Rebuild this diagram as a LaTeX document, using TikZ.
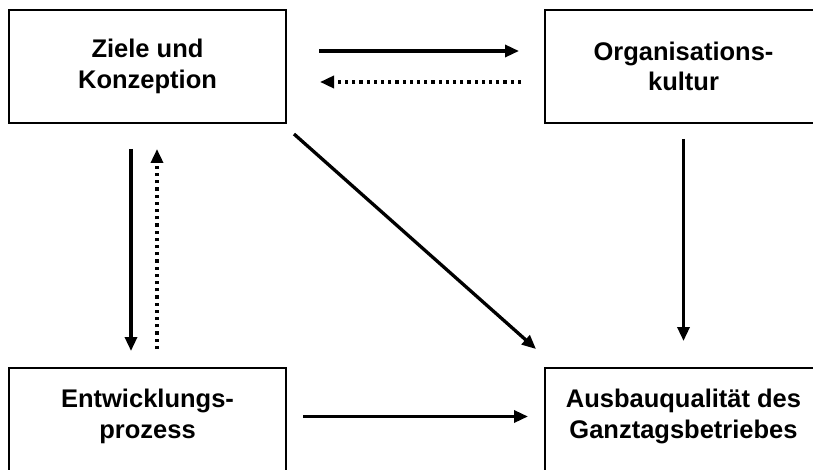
\documentclass[tikz,border=0pt]{standalone}
\usepackage{fontspec}
\setmainfont{Liberation Sans}
\usepackage{tikz}
\usetikzlibrary{%
	calc,%
	arrows.meta,%
	positioning
}

\tikzset{
	block/.style={draw, line width=2pt, minimum width=277pt, minimum height=113pt, align=center, inner sep=0pt,
		font=\fontsize{25.5}{30.5}\selectfont\bfseries},
	lower/.style={text depth=21pt},
	flow/.style={line width=3.3pt, ->},
	back/.style={line width=3.4pt, dash pattern=on 3.2pt off 4pt, ->}
}

\begin{document}
\begin{tikzpicture}[x=1pt, y=-1pt, >={Triangle[length=14pt,width=12pt]}]
		% Page
		\useasboundingbox (0,0) rectangle (813,470);
		\clip (0,0) rectangle (813,470);
		
		% Boxes
		\node[block] (ziele) at (147.5,66.5) {Ziele und\\Konzeption};
		\node[block] (kultur) at (683.5,66.5) {Organisations-\\kultur};
		\node[block, lower] (prozess) at (147.5,424.5) {Entwicklungs-\\prozess};
		\node[block, lower] (qualitaet) at (683.5,424.5) {Ausbauqualität des\\Ganztagsbetriebes};
	
		% Solid arrows
		\draw[flow] ([xshift=32pt,yshift=15.5pt]ziele.east) -- ([xshift=-25pt,yshift=15.5pt]kultur.west);
		\draw[flow] ([xshift=-16.5pt,yshift=-25pt]ziele.south) -- ([xshift=-16.5pt,yshift=16pt]prozess.north);
		\draw[flow] ([xshift=7pt,yshift=-10pt]ziele.south east) -- ([xshift=-8pt,yshift=18pt]qualitaet.north west);
		\draw[flow] ([yshift=-15pt]kultur.south) -- ([yshift=26pt]qualitaet.north);
		\draw[flow] ([xshift=16pt,yshift=8pt]prozess.east) -- ([xshift=-16pt,yshift=8pt]qualitaet.west);
		
		% Dotted arrows
		\draw[back] ([xshift=-23pt,yshift=-15.5pt]kultur.west) -- ([xshift=33pt,yshift=-15.5pt]ziele.east);
		\draw[back] ([xshift=9.5pt,yshift=18pt]prozess.north) -- ([xshift=9.5pt,yshift=-25pt]ziele.south);
	\end{tikzpicture}
\end{document}
